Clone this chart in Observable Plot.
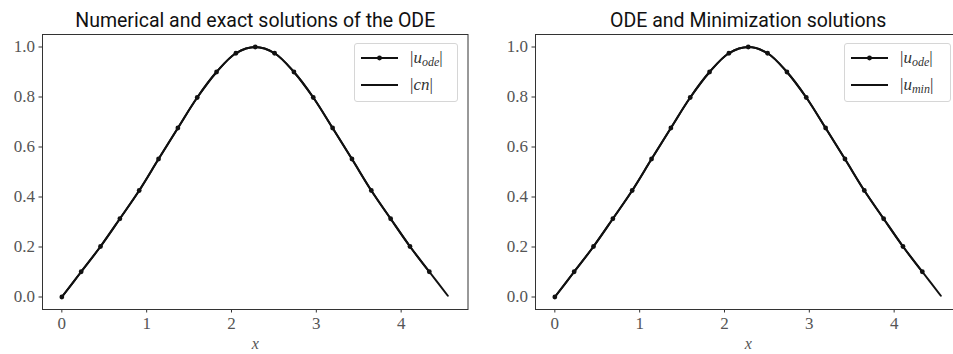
<!DOCTYPE html>
<html>
<head>
<meta charset="utf-8">
<script src="https://cdn.jsdelivr.net/npm/d3@7"></script>
<script src="https://cdn.jsdelivr.net/npm/@observablehq/plot@0.6"></script>
<style>
  html, body { margin: 0; padding: 0; background: #fff; overflow: hidden; }
  #wrap { position: relative; width: 953px; height: 354px; overflow: hidden; background: #fff; }
  .panel { position: absolute; top: 0; }
  .legend {
    position: absolute; background: rgba(255,255,255,0.8);
    border: 1px solid #d6d6d6; border-radius: 3px; box-sizing: border-box;
    font-family: "Liberation Serif", "DejaVu Serif", serif; font-size: 17px; color: #333;
  }
  .legend .row { position: absolute; left: 0; height: 20px; }
  .legend svg { display: block; }
  .legend .lab { position: absolute; white-space: nowrap; line-height: 20px; }
  .legend i { font-style: italic; }
  .legend sub { font-size: 12px; font-style: italic; vertical-align: -3px; line-height: 0; }
</style>
</head>
<body>
<div id="wrap"></div>
<script>
// ---- data ----
const titles = ["Numerical and exact solutions of the ODE", "ODE and Minimization solutions"];
const xOde = [0, 0.228, 0.456, 0.684, 0.912, 1.14, 1.368, 1.596, 1.824, 2.052, 2.28, 2.508, 2.736, 2.964, 3.192, 3.42, 3.648, 3.876, 4.104, 4.332];
const uOde = [0, 0.101, 0.202, 0.313, 0.426, 0.552, 0.676, 0.798, 0.900, 0.975, 1.000, 0.975, 0.900, 0.798, 0.676, 0.552, 0.426, 0.313, 0.202, 0.101];
const xRef = [0, 0.228, 0.456, 0.684, 0.912, 1.14, 1.368, 1.596, 1.824, 2.052, 2.28, 2.508, 2.736, 2.964, 3.192, 3.42, 3.648, 3.876, 4.104, 4.332, 4.55];
const uCn  = [0, 0.101, 0.202, 0.313, 0.426, 0.552, 0.676, 0.798, 0.900, 0.975, 1.000, 0.975, 0.900, 0.798, 0.676, 0.552, 0.426, 0.313, 0.202, 0.101, 0.005];
const uMin = [0, 0.101, 0.202, 0.313, 0.426, 0.552, 0.676, 0.798, 0.900, 0.975, 1.000, 0.975, 0.900, 0.798, 0.676, 0.552, 0.426, 0.313, 0.202, 0.101, 0.005];
const xTicks = [0, 1, 2, 3, 4];
const yTicks = [0, 0.2, 0.4, 0.6, 0.8, 1.0];
const legendLabels = [["ode", "cn"], ["ode", "min"]];

const odeData = xOde.map((x, i) => ({x, y: uOde[i]}));
const refSets = [uCn, uMin].map(u => xRef.map((x, i) => ({x, y: u[i]})));

const wrap = document.getElementById("wrap");
const lefts = [0, 492.6];

function makePanel(k) {
  const p = Plot.plot({
    width: 477, height: 354,
    marginLeft: 42, marginRight: 9.5, marginTop: 34, marginBottom: 45,
    style: {fontFamily: "'Liberation Serif', 'DejaVu Serif', serif", fontSize: "16px", color: "#555", background: "transparent", overflow: "visible"},
    x: {domain: [-0.228, 4.788]},
    y: {domain: [-0.05, 1.05]},
    marks: [
      Plot.axisX({ticks: xTicks, tickSize: 3.5, tickPadding: 4, tickFormat: d => String(d), stroke: "#333", fill: "#555", fontSize: 17, label: null}),
      Plot.axisY({ticks: yTicks, tickSize: 3.5, tickPadding: 4, tickFormat: d => d.toFixed(1), stroke: "#333", fill: "#555", fontSize: 17, label: null}),
      Plot.line(refSets[k], {x: "x", y: "y", stroke: "#111", strokeWidth: 2, curve: "catmull-rom"}),
      Plot.line(odeData, {x: "x", y: "y", stroke: "#111", strokeWidth: 2, curve: "catmull-rom"}),
      Plot.dot(odeData, {x: "x", y: "y", r: 2.4, fill: "#111", stroke: null}),
      Plot.frame({stroke: "#333", strokeWidth: 1}),
      Plot.text([titles[k]], {frameAnchor: "top", dy: -8, lineAnchor: "bottom", fontSize: 19.5, fill: "#111",
        fontFamily: "Roboto, 'DejaVu Sans', sans-serif"}),
      Plot.text(["x"], {frameAnchor: "bottom", dy: 34, lineAnchor: "middle", fontSize: 16, fontStyle: "italic", fill: "#555"})
    ]
  });
  p.classList.add("panel");
  p.style.left = lefts[k] + "px";
  wrap.appendChild(p);

  // legend
  const lg = document.createElement("div");
  lg.className = "legend";
  const box = k === 0 ? {left: 354, w: 104} : {left: 844, w: 107};
  lg.style.left = box.left + "px";
  lg.style.top = "43px";
  lg.style.width = box.w + "px";
  lg.style.height = "59px";
  const rows = [
    {y: 4, dot: true, html: `|<i>u</i><sub>${legendLabels[k][0]}</sub>|`},
    {y: 31, dot: false, html: k === 0 ? `|<i>cn</i>|` : `|<i>u</i><sub>${legendLabels[k][1]}</sub>|`}
  ];
  rows.forEach(r => {
    const row = document.createElement("div");
    row.className = "row";
    row.style.top = r.y + "px";
    row.innerHTML = `<svg width="60" height="20" style="position:absolute;left:0;top:0">
      <line x1="6" x2="43" y1="10" y2="10" stroke="#111" stroke-width="2"/>
      ${r.dot ? '<circle cx="24.5" cy="10" r="2.4" fill="#111"/>' : ''}
    </svg>`;
    const lab = document.createElement("span");
    lab.className = "lab";
    lab.style.left = "55px";
    lab.style.top = "0px";
    lab.innerHTML = r.html;
    row.appendChild(lab);
    lg.appendChild(row);
  });
  wrap.appendChild(lg);
}
makePanel(0);
makePanel(1);
</script>
</body>
</html>
